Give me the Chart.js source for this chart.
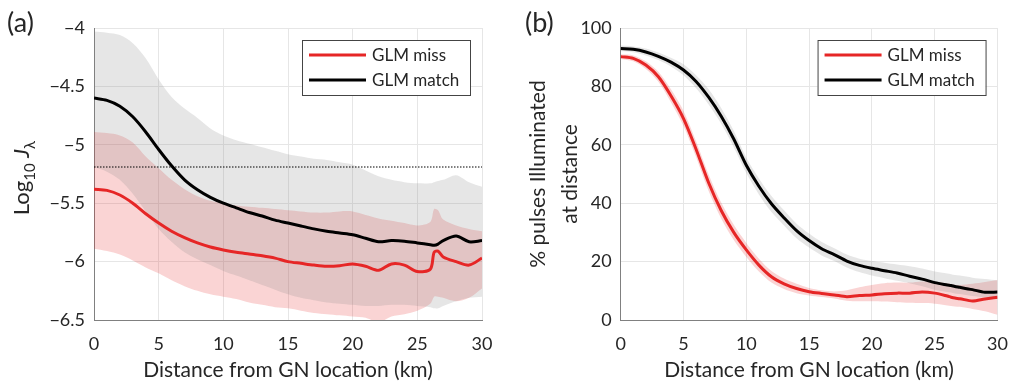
<!DOCTYPE html>
<html>
<head>
<meta charset="utf-8">
<script src="https://cdn.jsdelivr.net/npm/chart.js@4"></script>
<style>
  body { margin: 0; background: #fff; }
  #wrap { position: relative; width: 1021px; height: 384px; overflow: hidden; font-family: Lato, "Noto Sans", sans-serif; color: #262626; }
  #cA { position: absolute; left: 0; top: 0; }
  #cB { position: absolute; left: 510px; top: 0; }
  .tag { position: absolute; top: 8px; font-size: 27px; line-height: 27px; }
</style>
</head>
<body>
<div id="wrap">
  <canvas id="cA" width="510" height="384"></canvas>
  <canvas id="cB" width="511" height="384"></canvas>
  <div class="tag" style="left:7px">(a)</div>
  <div class="tag" style="left:525px">(b)</div>
</div>
<script>
// distance from GN location (km)
const dist = [0,1,2,3,4,5,6,7,8,9,10,11,12,13,14,15,16,17,18,19,20,21,22,23,24,25,26,26.3,26.6,27,28,29,30];

// (a) log10 J_lambda
const matchMean = [-4.60,-4.62,-4.67,-4.76,-4.89,-5.04,-5.18,-5.30,-5.385,-5.45,-5.50,-5.54,-5.58,-5.61,-5.645,-5.67,-5.695,-5.72,-5.74,-5.755,-5.77,-5.80,-5.83,-5.82,-5.825,-5.84,-5.855,-5.86,-5.85,-5.82,-5.78,-5.83,-5.82];
const matchHi   = [-4.03,-4.04,-4.06,-4.13,-4.26,-4.44,-4.59,-4.69,-4.77,-4.86,-4.92,-4.96,-4.99,-5.02,-5.05,-5.08,-5.10,-5.12,-5.13,-5.15,-5.17,-5.22,-5.27,-5.30,-5.32,-5.33,-5.33,-5.32,-5.31,-5.30,-5.26,-5.32,-5.36];
const matchLo   = [-5.19,-5.23,-5.30,-5.42,-5.57,-5.72,-5.83,-5.92,-5.98,-6.03,-6.08,-6.12,-6.16,-6.20,-6.24,-6.28,-6.31,-6.33,-6.35,-6.36,-6.37,-6.38,-6.38,-6.37,-6.37,-6.38,-6.39,-6.40,-6.40,-6.38,-6.34,-6.31,-6.30];
const missMean  = [-5.38,-5.39,-5.43,-5.50,-5.59,-5.67,-5.74,-5.795,-5.84,-5.875,-5.90,-5.92,-5.935,-5.95,-5.97,-6.00,-6.015,-6.03,-6.04,-6.035,-6.02,-6.04,-6.075,-6.02,-6.03,-6.085,-6.065,-5.92,-5.91,-5.96,-6.00,-6.03,-5.97];
const missHi    = [-4.89,-4.90,-4.92,-4.98,-5.10,-5.20,-5.30,-5.38,-5.44,-5.48,-5.50,-5.52,-5.53,-5.54,-5.55,-5.56,-5.57,-5.58,-5.58,-5.57,-5.57,-5.60,-5.63,-5.65,-5.67,-5.69,-5.66,-5.55,-5.56,-5.64,-5.69,-5.72,-5.74];
const missLo    = [-5.89,-5.91,-5.94,-5.99,-6.05,-6.10,-6.16,-6.21,-6.25,-6.28,-6.30,-6.32,-6.35,-6.37,-6.39,-6.40,-6.42,-6.44,-6.45,-6.46,-6.47,-6.48,-6.52,-6.47,-6.45,-6.42,-6.36,-6.30,-6.30,-6.31,-6.34,-6.31,-6.23];
const threshold = -5.19;

// (b) % pulses illuminated at distance
const pctMatch   = [93.0,92.7,91.8,90.3,88.3,85.6,81.7,76.3,69.8,62.0,53.0,45.8,39.8,35.0,30.6,27.2,24.4,22.4,20.2,18.7,17.7,16.9,16.1,15.0,14.0,12.8,12.0,11.8,11.5,11.2,10.4,9.5,9.6];
const pctMatchHi = [94.0,93.7,93.0,91.6,89.8,87.6,83.8,79.0,72.6,64.8,55.6,48.5,42.5,37.6,33.0,29.6,26.7,24.6,22.4,21.0,20.2,19.6,19.0,18.4,17.6,16.6,15.9,15.7,15.4,15.2,14.5,14.0,13.5];
const pctMatchLo = [92.0,91.7,90.6,89.0,86.8,83.8,79.4,73.8,67.2,59.2,50.3,43.0,37.0,32.4,28.0,24.8,22.1,20.2,18.0,16.4,15.2,14.3,13.4,12.6,11.6,10.4,9.6,9.4,9.1,8.9,8.2,7.8,7.6];
const pctMiss    = [90.2,89.6,87.3,83.3,76.8,69.0,58.5,47.0,37.5,30.0,24.0,18.8,14.8,12.4,10.8,9.7,9.1,8.6,8.0,8.4,8.6,9.0,9.2,9.2,9.6,9.2,8.2,7.8,7.5,7.3,6.5,7.2,7.8];
const pctMissHi  = [91.0,90.6,88.6,85.0,79.0,71.6,61.2,49.8,40.2,32.6,26.4,21.0,16.8,14.2,12.4,11.0,10.2,9.8,10.2,11.2,12.0,12.6,12.8,12.8,13.2,13.1,12.5,12.3,12.1,12.0,12.4,13.0,13.7];
const pctMissLo  = [89.4,88.6,86.0,81.6,74.6,66.4,55.8,44.2,34.8,27.4,21.6,16.6,12.8,10.6,9.2,8.4,7.9,7.4,6.6,6.4,6.4,6.3,6.1,5.9,5.8,5.6,5.0,4.8,4.6,4.5,3.8,3.0,1.8];

const xTicks = [0, 5, 10, 15, 20, 25, 30];

const RED = 'rgb(230,38,38)';
const FONT = 'Lato, "Noto Sans", sans-serif';
const TXT = '#262626';
Chart.defaults.font.family = FONT;
Chart.defaults.color = TXT;

function pts(ys) { return dist.map((x, i) => ({ x: x, y: ys[i] })); }

function band(ys, color, fill) {
  return { data: pts(ys), borderWidth: 0, pointRadius: 0, fill: fill, backgroundColor: color,
           tension: 0.3, order: 5 };
}
function curve(label, ys, color) {
  return { label: label, data: pts(ys), borderColor: color, borderWidth: 3, pointRadius: 0,
           fill: false, tension: 0.3, order: 1 };
}

// legend box inside the plot, top right
const boxLegend = {
  id: 'boxLegend',
  afterDraw(chart) {
    const { ctx, chartArea } = chart;
    const items = chart.data.datasets.filter(d => d.label);
    const w = 168, h = 55;
    const x0 = chartArea.right - 12 - w, y0 = chartArea.top + 12;
    ctx.save();
    ctx.fillStyle = '#fff';
    ctx.fillRect(x0, y0, w, h);
    ctx.strokeStyle = '#444';
    ctx.lineWidth = 1;
    ctx.strokeRect(x0 + 0.5, y0 + 0.5, w, h);
    ctx.font = '17px ' + FONT;
    ctx.textBaseline = 'middle';
    items.forEach((d, i) => {
      const y = y0 + 15 + i * 25;
      ctx.strokeStyle = d.borderColor;
      ctx.lineWidth = 3;
      ctx.beginPath();
      ctx.moveTo(x0 + 7, y);
      ctx.lineTo(x0 + 64, y);
      ctx.stroke();
      ctx.fillStyle = TXT;
      ctx.fillText(d.label, x0 + 70, y + 1);
    });
    ctx.restore();
  }
};

function axes(yMin, yMax, yStep, yWidth) {
  const minus = v => String(v).replace('-', '\u2212');
  return {
    x: {
      type: 'linear', min: 0, max: 30,
      afterBuildTicks: s => { s.ticks = xTicks.map(v => ({ value: v })); },
      afterFit: s => { s.height = 64; },
      grid: { color: '#e6e6e6', drawTicks: false },
      border: { color: '#808080' },
      ticks: { font: { size: 18 }, padding: 13, color: TXT, maxRotation: 0 },
      title: { display: true, text: 'Distance from GN location (km)', font: { size: 21 }, color: TXT, padding: { top: 0, bottom: 1 } }
    },
    y: {
      type: 'linear', min: yMin, max: yMax,
      afterFit: s => { s.width = yWidth; },
      grid: { color: '#e6e6e6', drawTicks: false },
      border: { color: '#808080' },
      ticks: { stepSize: yStep, font: { size: 18 }, padding: 9, color: TXT, callback: minus }
    }
  };
}

const baseOpts = {
  responsive: false,
  animation: false,
  devicePixelRatio: 1,
  plugins: { legend: { display: false }, tooltip: { enabled: false } }
};

// ---- (a)
const titleA = {
  id: 'titleA',
  afterDraw(chart) {
    const { ctx, chartArea } = chart;
    const parts = [
      ['Log', '22px ' + FONT, 0], ['10', '15px ' + FONT, 6], [' ', '22px ' + FONT, 0],
      ['J', 'italic 22px ' + FONT, 0], ['\u03bb', '15px ' + FONT, 6]
    ];
    ctx.save();
    let total = 0;
    parts.forEach(p => { ctx.font = p[1]; total += ctx.measureText(p[0]).width; });
    ctx.translate(chartArea.left - 65, (chartArea.top + chartArea.bottom) / 2 + 4);
    ctx.rotate(-Math.PI / 2);
    ctx.fillStyle = TXT;
    ctx.textBaseline = 'alphabetic';
    let x = -total / 2;
    parts.forEach(p => {
      ctx.font = p[1];
      ctx.fillText(p[0], x, p[2]);
      x += ctx.measureText(p[0]).width;
    });
    ctx.restore();
  }
};

new Chart(document.getElementById('cA'), {
  type: 'line',
  data: {
    datasets: [
      band(matchHi, 'rgba(128,128,128,0.2)', '+1'),
      band(matchLo, 'transparent', false),
      band(missHi, 'rgba(230,38,38,0.2)', '+1'),
      band(missLo, 'transparent', false),
      { data: [{ x: 0, y: threshold }, { x: 30, y: threshold }], borderColor: '#000', borderWidth: 1.2,
        borderDash: [1.5, 1.5], pointRadius: 0, fill: false, order: 3 },
      curve('GLM miss', missMean, RED),
      curve('GLM match', matchMean, '#000')
    ]
  },
  options: Object.assign({}, baseOpts, {
    layout: { padding: { top: 28, right: 28, left: 0, bottom: 0 } },
    scales: axes(-6.5, -4, 0.5, 94)
  }),
  plugins: [boxLegend, titleA]
});

// ---- (b)
const titleB = {
  id: 'titleB',
  afterDraw(chart) {
    const { ctx, chartArea } = chart;
    const cy = (chartArea.top + chartArea.bottom) / 2;
    ctx.save();
    ctx.fillStyle = TXT;
    ctx.font = '21px ' + FONT;
    ctx.textAlign = 'center';
    ctx.textBaseline = 'alphabetic';
    [['% pulses Illuminated', 76], ['at distance', 44]].forEach(l => {
      ctx.save();
      ctx.translate(chartArea.left - l[1], cy);
      ctx.rotate(-Math.PI / 2);
      ctx.fillText(l[0], 0, 0);
      ctx.restore();
    });
    ctx.restore();
  }
};

new Chart(document.getElementById('cB'), {
  type: 'line',
  data: {
    datasets: [
      band(pctMatchHi, 'rgba(128,128,128,0.2)', '+1'),
      band(pctMatchLo, 'transparent', false),
      band(pctMissHi, 'rgba(230,38,38,0.2)', '+1'),
      band(pctMissLo, 'transparent', false),
      curve('GLM miss', pctMiss, RED),
      curve('GLM match', pctMatch, '#000')
    ]
  },
  options: Object.assign({}, baseOpts, {
    layout: { padding: { top: 28, right: 13, left: 0, bottom: 0 } },
    scales: axes(0, 100, 20, 110.7)
  }),
  plugins: [boxLegend, titleB]
});
</script>
</body>
</html>
